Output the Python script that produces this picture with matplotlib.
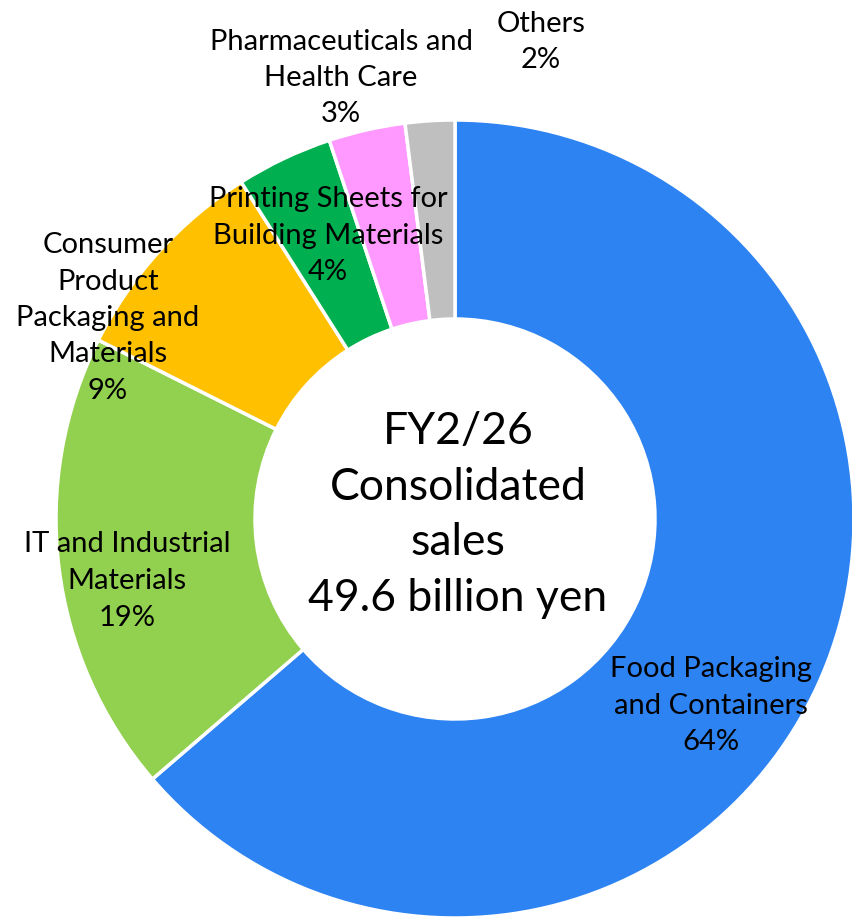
import matplotlib
matplotlib.use('Agg')
from matplotlib import pyplot as plt

# segment data (share of consolidated sales, %)
segments = ['Food Packaging\nand Containers', 'IT and Industrial\nMaterials',
            'Consumer\nProduct\nPackaging and\nMaterials',
            'Printing Sheets for\nBuilding Materials',
            'Pharmaceuticals and\nHealth Care', 'Others']
shares = [63.7, 18.7, 8.6, 3.9, 3.1, 2.0]
colors = ['#2E83F2', '#92D050', '#FFC000', '#00B050', '#FF99FF', '#BFBFBF']
center_text = 'FY2/26\nConsolidated\nsales\n49.6 billion yen'

# label anchor points in figure pixels (x, y from top)
label_pos = [(711, 706), (127, 581), (108, 318), (328, 236), (341, 78), (541, 42)]

W, H = 852, 917
plt.rcParams['font.family'] = ['Lato', 'DejaVu Sans']

fig = plt.figure(figsize=(W / 100, H / 100), dpi=100)
ax = fig.add_axes([0, 0, 1, 1])

ax.pie(shares, colors=colors, startangle=90, counterclock=False,
       center=(455, H - 519), radius=399,
       wedgeprops=dict(width=199, edgecolor='white', linewidth=2.5))

for name, val, (x, y) in zip(segments, shares, label_pos):
    ax.text(x, H - y, f'{name}\n{round(val)}%', ha='center', va='center',
            fontsize=21, linespacing=1.5, color='black')

ax.text(458, H - 515, center_text, ha='center', va='center',
        fontsize=32, linespacing=1.45, color='black')

ax.set_xlim(0, W)
ax.set_ylim(0, H)
ax.set_aspect('equal')
ax.axis('off')

fig.savefig('out.png', dpi=100)
